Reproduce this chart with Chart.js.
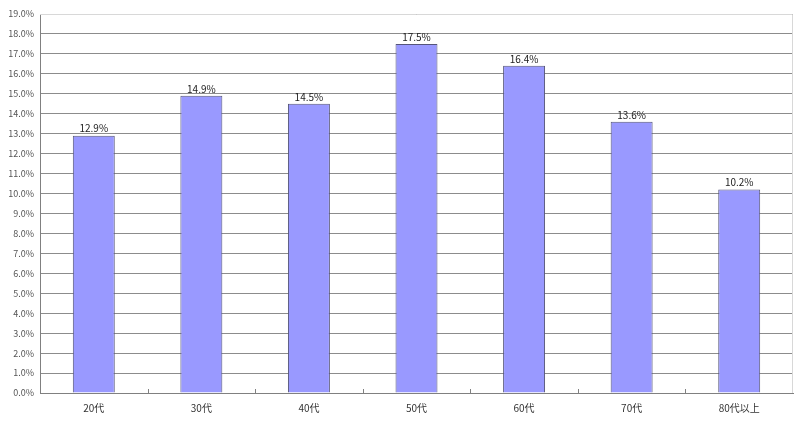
<!DOCTYPE html>
<html>
<head>
<meta charset="utf-8">
<script src="https://cdn.jsdelivr.net/npm/chart.js@4/dist/chart.umd.min.js"></script>
<style>
  html, body { margin: 0; padding: 0; background: #fff; }
  #wrap { width: 800px; height: 421px; }
</style>
</head>
<body>
<div id="wrap"><canvas id="ageChart"></canvas></div>
<script>
// age groups and share per group (%)
const ageGroups = ['20代', '30代', '40代', '50代', '60代', '70代', '80代以上'];
const shareValues = [12.9, 14.9, 14.5, 17.5, 16.4, 13.6, 10.2];
const yMin = 0;
const yMax = 19;
const yStep = 1;

const fontFamily = '"Noto Sans CJK JP", "DejaVu Sans", sans-serif';

// value labels above each bar
const valueLabels = {
  id: 'valueLabels',
  afterDatasetsDraw(chart) {
    const ctx = chart.ctx;
    const meta = chart.getDatasetMeta(0);
    ctx.save();
    ctx.font = '10px ' + fontFamily;
    ctx.fillStyle = '#222';
    ctx.textAlign = 'center';
    ctx.textBaseline = 'bottom';
    meta.data.forEach((bar, i) => {
      ctx.fillText(shareValues[i].toFixed(1) + '%', bar.x, bar.y - 2);
    });
    ctx.restore();
  }
};

// plot frame + small inward ticks between categories
const plotFrame = {
  id: 'plotFrame',
  beforeDatasetsDraw(chart) {
    const ctx = chart.ctx;
    const a = chart.chartArea;
    const x = chart.scales.x;
    ctx.save();
    ctx.strokeStyle = '#d8d8d8';
    ctx.lineWidth = 1;
    ctx.beginPath();
    ctx.moveTo(a.left, a.top + 0.5);
    ctx.lineTo(a.right - 0.5, a.top + 0.5);
    ctx.lineTo(a.right - 0.5, a.bottom);
    ctx.stroke();
    ctx.strokeStyle = '#808080';
    ctx.beginPath();
    const half = (x.getPixelForValue(1) - x.getPixelForValue(0)) / 2;
    for (let i = 0; i < ageGroups.length - 1; i++) {
      const px = Math.round(x.getPixelForValue(i) + half) + 0.5;
      ctx.moveTo(px, a.bottom);
      ctx.lineTo(px, a.bottom - 4);
    }
    ctx.stroke();
    ctx.restore();
  }
};

new Chart(document.getElementById('ageChart'), {
  type: 'bar',
  data: {
    labels: ageGroups,
    datasets: [{
      data: shareValues,
      backgroundColor: '#9999ff',
      borderColor: '#55557a',
      borderWidth: 1,
      borderSkipped: 'bottom',
      categoryPercentage: 1,
      barPercentage: 0.39
    }]
  },
  options: {
    responsive: true,
    maintainAspectRatio: false,
    animation: false,
    layout: { padding: { top: 14, right: 7, left: 0, bottom: 0 } },
    plugins: {
      legend: { display: false },
      tooltip: { enabled: false }
    },
    scales: {
      x: {
        grid: { display: false, drawTicks: false },
        border: { color: '#808080' },
        ticks: {
          color: '#333',
          padding: 9,
          font: { size: 10, family: fontFamily }
        },
        afterFit(scale) { scale.height = 28; }
      },
      y: {
        min: yMin,
        max: yMax,
        grid: { color: '#8c8c8c', drawTicks: false },
        border: { color: '#808080' },
        ticks: {
          stepSize: yStep,
          color: '#555',
          padding: 6,
          font: { size: 9, family: fontFamily },
          callback: v => v.toFixed(1) + '%'
        },
        afterFit(scale) { scale.width = 40; }
      }
    }
  },
  plugins: [plotFrame, valueLabels]
});
</script>
</body>
</html>
